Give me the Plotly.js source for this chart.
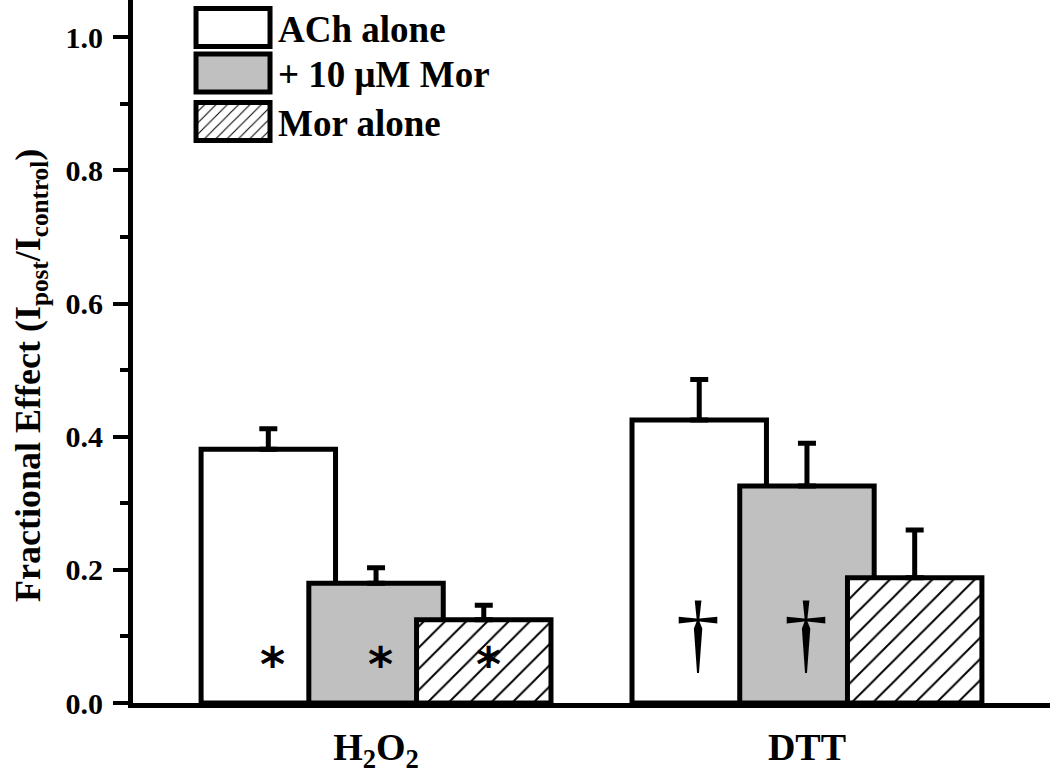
<!DOCTYPE html>
<html>
<head>
<meta charset="utf-8">
<script src="https://cdn.plot.ly/plotly-3.0.1.min.js"></script>
<style>
  html, body { margin: 0; padding: 0; background: #fff; }
  #chart { width: 1050px; height: 774px; }
</style>
</head>
<body>
<div id="chart"></div>
<script>
// ---- data ----
const categories = ['H<sub>2</sub>O<sub>2</sub>', 'DTT'];
const seriesNames = ['ACh alone', '+ 10 \u03BCM Mor', 'Mor alone'];
const achAlone = [0.381, 0.425];
const achAloneErr = [0.031, 0.061];
const withMor = [0.180, 0.326];
const withMorErr = [0.023, 0.064];
const morAlone = [0.125, 0.188];
const morAloneErr = [0.022, 0.072];
const yTickVals = [0.0, 0.2, 0.4, 0.6, 0.8, 1.0];
const yTickText = ['0.0', '0.2', '0.4', '0.6', '0.8', '1.0'];
const yTitle = 'Fractional Effect (I<sub>post</sub>/I<sub>control</sub>)';
// significance markers: [category index, series index, symbol]
const markers = [
  [0, 0, '*'], [0, 1, '*'], [0, 2, '*'],
  [1, 0, '\u2020'], [1, 1, '\u2020']
];

const FONT = 'Liberation Serif, Times New Roman, serif';
const barW = 0.312;
const step = 0.25;
const offsets = [-step - barW / 2, -barW / 2, step - barW / 2];

const fills = ['#ffffff', '#c0c0c0', '#ffffff'];
const values = [achAlone, withMor, morAlone];
const errs = [achAloneErr, withMorErr, morAloneErr];

const traces = values.map((v, i) => ({
  type: 'bar',
  name: seriesNames[i],
  x: categories,
  y: v,
  width: barW,
  offset: offsets[i],
  legendgroup: 'g' + i,
  marker: {
    color: fills[i],
    line: { color: '#000', width: 5 },
    pattern: i === 2 ? { shape: '/', size: 15, solidity: 0.13, fgcolor: '#000', bgcolor: '#fff', fillmode: 'replace' } : { shape: '' }
  },
  error_y: {
    type: 'data', symmetric: false, array: errs[i], arrayminus: v.map(() => 0),
    color: '#000', thickness: 5, width: 9
  },
  hoverinfo: 'skip'
}));

const annotations = markers.map(([c, s, sym]) => ({
  x: c + offsets[s] + barW / 2 + (sym === '*' ? 0.01 : -0.003),
  y: sym === '*' ? 0.058 : 0.104,
  xref: 'x', yref: 'y',
  text: sym,
  showarrow: false,
  font: sym === '*' ? { family: 'DejaVu Sans', size: 48, color: '#000', weight: 'bold' }
                    : { family: FONT, size: 88, color: '#000' },
  xanchor: 'center', yanchor: 'middle'
}));

annotations.push({
  xref: 'paper', yref: 'paper',
  x: -103 / 917, y: (703 - 376) / 703,
  xanchor: 'center', yanchor: 'middle',
  textangle: -90,
  text: yTitle,
  showarrow: false,
  font: { family: FONT, size: 36, color: '#000', weight: 'bold' }
});

const layout = {
  width: 1050, height: 774,
  margin: { l: 133, r: 0, t: 0, b: 71, pad: 0 },
  paper_bgcolor: '#fff', plot_bgcolor: '#fff',
  barmode: 'overlay',
  showlegend: true,
  legend: {
    x: 0.06, y: 1.0, xanchor: 'left', yanchor: 'top',
    font: { family: FONT, size: 37, color: '#000', weight: 'bold' },
    itemwidth: 80, tracegroupgap: 0, traceorder: 'grouped',
    bgcolor: 'rgba(0,0,0,0)', borderwidth: 0, itemclick: false, itemdoubleclick: false
  },
  xaxis: {
    type: 'category',
    range: [-0.564, 1.564],
    showline: true, linecolor: '#000', linewidth: 5,
    ticks: '', showgrid: false, zeroline: false,
    tickfont: { family: FONT, size: 38, color: '#000', weight: 'bold' },
    ticklabelstandoff: 6,
    fixedrange: true
  },
  yaxis: {
    range: [0, 1.056],
    tickvals: yTickVals, ticktext: yTickText,
    showline: true, linecolor: '#000', linewidth: 5,
    ticks: 'outside', ticklen: 15, tickwidth: 4, tickcolor: '#000',
    minor: { dtick: 0.1, ticks: 'outside', ticklen: 8, tickwidth: 4, tickcolor: '#000', showgrid: false },
    showgrid: false, zeroline: false,
    tickfont: { family: FONT, size: 30, color: '#000', weight: 'bold' },
    ticklabelstandoff: 4,
    automargin: false,
    fixedrange: true
  },
  annotations: annotations
};

Plotly.newPlot('chart', traces, layout, { displayModeBar: false, staticPlot: true }).then(gd => {
  // enlarge legend swatches to match the reference's large boxes
  gd.querySelectorAll('.legend .traces .legendpoints path').forEach(p => {
    p.setAttribute('d', 'M-37,-19H37V19H-37Z');
    p.style.strokeWidth = '5px';
    p.style.stroke = '#000';
  });
  // tighten the legend row spacing to the reference's
  const items = Array.from(gd.querySelectorAll('.legend .traces'));
  items.forEach((g, i) => {
    const m = /translate\(\s*([-\d.]+)[ ,]+([-\d.]+)\s*\)/.exec(g.getAttribute('transform') || '');
    if (!m) return;
    const y0 = (function () {
      const m0 = /translate\(\s*([-\d.]+)[ ,]+([-\d.]+)\s*\)/.exec(items[0].getAttribute('transform'));
      return parseFloat(m0[2]);
    })();
    g.setAttribute('transform', 'translate(' + m[1] + ',' + (y0 - 3 + i * 48.5) + ')');
  });
});
</script>
</body>
</html>
